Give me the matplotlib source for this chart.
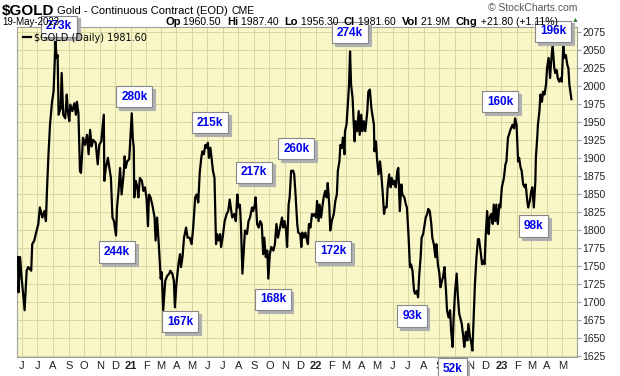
import pandas as pd
import matplotlib
matplotlib.use('Agg')
import matplotlib.pyplot as plt
import matplotlib.transforms as mtransforms

start_date = '2020-05-19'
days = [5, 6, 9, 12, 18, 22, 25, 31, 33, 37, 40, 45, 48, 53, 57, 60, 62, 65, 68, 72,
        75, 77, 79, 81, 83, 85, 89, 91, 94, 98, 101, 103, 106, 108, 112, 116, 119, 121, 124, 127,
        129, 133, 137, 141, 144, 147, 150, 153, 158, 162, 165, 169, 174, 175, 178, 182, 185, 188, 191, 194,
        198, 200, 203, 206, 209, 213, 215, 217, 220, 224, 226, 229, 231, 233, 234, 237, 240, 242, 245, 249,
        252, 255, 258, 261, 263, 266, 270, 274, 276, 279, 283, 286, 288, 291, 295, 299, 303, 305, 309, 312,
        314, 317, 321, 324, 326, 329, 332, 336, 339, 343, 347, 350, 354, 357, 360, 363, 366, 368, 371, 374,
        376, 379, 381, 384, 387, 389, 392, 395, 397, 400, 403, 405, 408, 412, 416, 419, 422, 425, 427, 431,
        434, 437, 439, 442, 444, 447, 450, 452, 456, 459, 462, 466, 468, 471, 473, 476, 479, 482, 485, 488,
        490, 493, 496, 498, 501, 504, 508, 511, 514, 517, 521, 525, 527, 530, 533, 535, 538, 540, 543, 547,
        549, 552, 555, 557, 561, 563, 565, 568, 571, 573, 576, 578, 581, 584, 586, 589, 592, 594, 597, 599,
        602, 605, 607, 610, 613, 615, 618, 620, 623, 627, 630, 633, 635, 638, 640, 643, 645, 648, 649, 652,
        655, 657, 659, 661, 664, 666, 668, 670, 673, 676, 678, 681, 683, 686, 689, 693, 695, 698, 701, 703,
        706, 707, 710, 712, 715, 718, 720, 723, 726, 728, 731, 733, 736, 739, 741, 744, 746, 749, 752, 754,
        757, 760, 762, 766, 769, 771, 774, 777, 779, 782, 785, 787, 790, 793, 795, 798, 800, 803, 806, 808,
        811, 813, 816, 819, 821, 824, 827, 829, 832, 835, 837, 840, 842, 845, 848, 850, 853, 856, 858, 861,
        863, 866, 869, 871, 874, 876, 879, 882, 884, 887, 890, 892, 895, 898, 900, 903, 905, 908, 911, 913,
        916, 919, 921, 924, 926, 929, 932, 934, 937, 940, 942, 945, 947, 950, 953, 955, 958, 962, 965, 967,
        970, 972, 974, 976, 979, 982, 984, 987, 990, 992, 995, 997, 1000, 1003, 1005, 1008, 1010, 1013, 1016, 1018,
        1021, 1024, 1025, 1028, 1029, 1032, 1034, 1037, 1039, 1042, 1045, 1047, 1050, 1053, 1055, 1058, 1061, 1063, 1066, 1068,
        1071, 1074, 1076, 1079, 1081, 1084, 1087, 1089, 1091, 1093, 1095]
closes = [1762, 1713, 1762, 1734, 1688, 1743, 1748, 1743, 1780, 1785, 1794, 1808, 1831, 1817, 1826, 1812, 1854, 1905, 1946, 1978,
          1992, 2029, 2062, 2039, 2043, 1960, 1969, 2018, 1960, 1955, 1988, 1965, 1951, 1974, 1965, 1976, 1960, 1978, 1962, 1882,
          1879, 1928, 1918, 1932, 1905, 1939, 1916, 1925, 1921, 1891, 1918, 1923, 1960, 1868, 1886, 1900, 1886, 1872, 1817, 1812,
          1792, 1831, 1854, 1886, 1849, 1877, 1902, 1886, 1895, 1898, 1923, 1962, 1928, 1914, 1845, 1868, 1859, 1845, 1872, 1868,
          1854, 1859, 1845, 1805, 1849, 1845, 1833, 1817, 1785, 1817, 1771, 1732, 1741, 1688, 1729, 1736, 1739, 1743, 1739, 1729,
          1692, 1725, 1752, 1766, 1748, 1762, 1789, 1803, 1789, 1789, 1780, 1803, 1845, 1849, 1838, 1880, 1900, 1909, 1905, 1918,
          1914, 1921, 1900, 1914, 1895, 1882, 1872, 1780, 1794, 1785, 1794, 1776, 1789, 1812, 1822, 1826, 1842, 1826, 1817, 1822,
          1812, 1849, 1831, 1835, 1808, 1739, 1776, 1799, 1794, 1812, 1817, 1831, 1826, 1833, 1845, 1808, 1803, 1812, 1808, 1766,
          1789, 1762, 1771, 1732, 1766, 1776, 1771, 1780, 1808, 1789, 1803, 1817, 1803, 1812, 1799, 1776, 1835, 1845, 1882, 1882,
          1877, 1845, 1808, 1796, 1794, 1776, 1796, 1789, 1796, 1789, 1780, 1808, 1803, 1822, 1819, 1822, 1817, 1840, 1812, 1835,
          1817, 1835, 1845, 1854, 1845, 1865, 1835, 1799, 1812, 1822, 1840, 1849, 1882, 1895, 1918, 1914, 1928, 1905, 1937, 1946,
          1978, 2002, 2048, 2002, 1983, 1951, 1923, 1951, 1937, 1965, 1932, 1960, 1937, 1951, 1937, 1965, 1992, 1995, 1969, 1960,
          1946, 1909, 1923, 1900, 1877, 1895, 1882, 1854, 1822, 1831, 1831, 1859, 1877, 1859, 1872, 1863, 1868, 1859, 1882, 1886,
          1826, 1863, 1849, 1845, 1835, 1831, 1794, 1748, 1752, 1743, 1715, 1711, 1715, 1706, 1734, 1762, 1789, 1794, 1808, 1817,
          1822, 1829, 1826, 1808, 1789, 1780, 1762, 1780, 1752, 1739, 1720, 1729, 1734, 1748, 1715, 1688, 1678, 1688, 1660, 1637,
          1678, 1715, 1739, 1711, 1683, 1678, 1669, 1651, 1637, 1658, 1646, 1669, 1651, 1642, 1632, 1688, 1725, 1762, 1787, 1787,
          1771, 1752, 1757, 1752, 1789, 1826, 1794, 1817, 1822, 1808, 1835, 1812, 1835, 1808, 1835, 1831, 1859, 1872, 1891, 1895,
          1928, 1932, 1937, 1941, 1946, 1941, 1955, 1946, 1895, 1900, 1886, 1882, 1863, 1859, 1863, 1840, 1831, 1840, 1854, 1859,
          1831, 1868, 1900, 1932, 1946, 1965, 1988, 1978, 1992, 1988, 2002, 2025, 2039, 2011, 2034, 2057, 2027, 2018, 2022, 2011,
          2006, 2011, 2006, 2057, 2039, 2043, 2029, 2025, 2002, 1992, 1981.6]

# volume call-outs
vol_text = ['273k', '280k', '244k', '167k', '215k', '217k', '168k', '260k',
            '274k', '172k', '93k', '52k', '160k', '98k', '196k']
vol_day = [86, 234, 200, 324, 383, 470, 507, 553, 659, 626, 781, 860, 955, 1020, 1059]
vol_price = [2083, 1985, 1769, 1672, 1949, 1880, 1703, 1913, 2074, 1770, 1680, 1606, 1978, 1805, 2076]

y_ticks = list(range(1625, 2076, 25))
month_letters = 'JFMAMJJASOND'

plt.rcParams['font.family'] = ['Liberation Sans', 'DejaVu Sans']

base = pd.Timestamp(start_date)
dates = [base + pd.Timedelta(days=d) for d in days]

fig = plt.figure(figsize=(6.2, 3.76), dpi=100)
ax = fig.add_axes([17 / 620, 1 - 357 / 376, 560 / 620, 330 / 376])
ax.set_facecolor('#f9f7c7')

line, = ax.plot(dates, closes, color='black', lw=1.6, zorder=3)

ax.set_xlim(base + pd.Timedelta(days=3), base + pd.Timedelta(days=1106))
ax.set_ylim(1623, 2082)

# month ticks, year numbers in bold at January
months = pd.date_range('2020-06-01', '2023-05-01', freq='MS')
ax.set_xticks(months)
ax.set_xticklabels([m.strftime('%y') if m.month == 1 else month_letters[m.month - 1] for m in months])
for m, lab in zip(months, ax.get_xticklabels()):
    if m.month == 1:
        lab.set_fontweight('bold')
        lab.set_fontsize(9)
ax.tick_params(axis='x', length=0, labelsize=8, pad=3, colors='#222222')

ax.yaxis.tick_right()
ax.set_yticks(y_ticks)
ax.tick_params(axis='y', length=3, labelsize=7.5, pad=1, colors='#222222', color='#999999')

ax.grid(True, color='#d6d6a0', lw=0.7, zorder=0)
for s in ax.spines.values():
    s.set_color('#a0a0a0')
    s.set_linewidth(0.8)

ax.legend([line], ['\\$GOLD (Daily) 1981.60'], loc='upper left', frameon=False,
          handlelength=0.8, handletextpad=0.4, borderaxespad=0.2,
          prop={'family': 'DejaVu Sans', 'size': 7})

# boxed volume labels with a drop shadow
shadow = mtransforms.offset_copy(ax.transData, fig=fig, x=2, y=-2, units='points')
for t, d, p in zip(vol_text, vol_day, vol_price):
    x = base + pd.Timedelta(days=d)
    ax.text(x, p, t, transform=shadow, ha='center', va='center', fontsize=8.5, fontweight='bold',
            color='#b0b0b0', zorder=4,
            bbox=dict(boxstyle='square,pad=0.4', fc='#b0b0b0', ec='#b0b0b0', lw=0.8))
    ax.text(x, p, t, ha='center', va='center', fontsize=8.5, fontweight='bold',
            color='#0000ee', zorder=5,
            bbox=dict(boxstyle='square,pad=0.4', fc='white', ec='#888888', lw=0.8))

# header, laid out left to right
renderer = fig.canvas.get_renderer()


def put_row(x0, y, parts):
    x = x0
    for txt, size, weight in parts:
        t = fig.text(x / 620, 1 - y / 376, txt, fontsize=size, fontweight=weight, va='center')
        x += t.get_window_extent(renderer).width
    return x


put_row(2, 11, [('$GOLD', 11, 'bold'), (' Gold - Continuous Contract (EOD) ', 8, 'normal'),
                ('CME', 7.5, 'normal')])
fig.text(577 / 620, 1 - 8 / 376, '\u00a9 StockCharts.com', fontsize=7.5, color='#555555',
         ha='right', va='center')
fig.text(2 / 620, 1 - 22 / 376, '19-May-2023', fontsize=7, va='center')

put_row(165, 22, [('Op', 8, 'bold'), (' 1960.50  ', 7.5, 'normal'),
                  ('Hi', 8, 'bold'), (' 1987.40  ', 7.5, 'normal'),
                  ('Lo', 8, 'bold'), (' 1956.30  ', 7.5, 'normal'),
                  ('Cl', 8, 'bold'), (' 1981.60  ', 7.5, 'normal'),
                  ('Vol', 8, 'bold'), (' 21.9M  ', 7.5, 'normal'),
                  ('Chg', 8, 'bold'), (' +21.80 (+1.11%)', 7.5, 'normal')])
fig.text(575 / 620, 1 - 21 / 376, '\u25b2', fontsize=5, color='#2e7d32', ha='center', va='center')

fig.savefig('out.png', dpi=100)
